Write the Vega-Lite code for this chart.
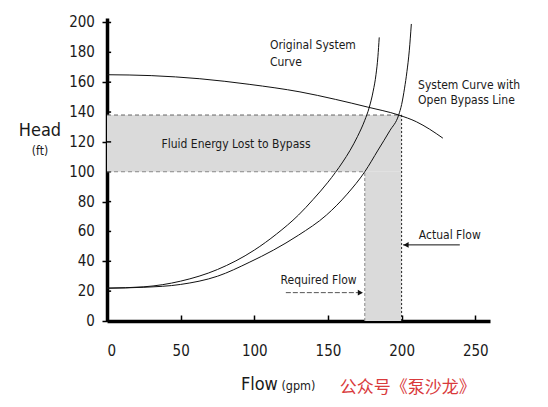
{
  "$schema": "https://vega.github.io/schema/vega-lite/v6.json",
  "width": 383,
  "height": 303,
  "autosize": {"type": "none"},
  "padding": {"left": 107, "top": 18, "right": 58, "bottom": 86},
  "background": "white",
  "config": {
    "view": {"stroke": null},
    "font": "DejaVu Sans Condensed, Roboto, sans-serif",
    "axis": {"labelOverlap": false, "grid": false},
    "text": {"font": "DejaVu Sans Condensed, Roboto, sans-serif", "color": "#1a1a1a"}
  },
  "datasets": {
    "curves": [
      {"series": "Original System Curve", "q": 0, "h": 22},
      {"series": "Original System Curve", "q": 25, "h": 22.9},
      {"series": "Original System Curve", "q": 50, "h": 26.7},
      {"series": "Original System Curve", "q": 75, "h": 34.5},
      {"series": "Original System Curve", "q": 100, "h": 47.5},
      {"series": "Original System Curve", "q": 115, "h": 58.2},
      {"series": "Original System Curve", "q": 130, "h": 71},
      {"series": "Original System Curve", "q": 140, "h": 81.5},
      {"series": "Original System Curve", "q": 150, "h": 93},
      {"series": "Original System Curve", "q": 160, "h": 106.5},
      {"series": "Original System Curve", "q": 165, "h": 114.3},
      {"series": "Original System Curve", "q": 170, "h": 123.5},
      {"series": "Original System Curve", "q": 175, "h": 134.5},
      {"series": "Original System Curve", "q": 178, "h": 143},
      {"series": "Original System Curve", "q": 180.7, "h": 154},
      {"series": "Original System Curve", "q": 182.6, "h": 165},
      {"series": "Original System Curve", "q": 183.9, "h": 177},
      {"series": "Original System Curve", "q": 184.8, "h": 190},
      {"series": "System Curve with Open Bypass Line", "q": 0, "h": 22},
      {"series": "System Curve with Open Bypass Line", "q": 25, "h": 22.6},
      {"series": "System Curve with Open Bypass Line", "q": 50, "h": 24.5},
      {"series": "System Curve with Open Bypass Line", "q": 75, "h": 30},
      {"series": "System Curve with Open Bypass Line", "q": 97, "h": 39.5},
      {"series": "System Curve with Open Bypass Line", "q": 113, "h": 47.5},
      {"series": "System Curve with Open Bypass Line", "q": 130, "h": 57.5},
      {"series": "System Curve with Open Bypass Line", "q": 149, "h": 71},
      {"series": "System Curve with Open Bypass Line", "q": 163, "h": 85},
      {"series": "System Curve with Open Bypass Line", "q": 175, "h": 100},
      {"series": "System Curve with Open Bypass Line", "q": 184, "h": 114.5},
      {"series": "System Curve with Open Bypass Line", "q": 192, "h": 127.5},
      {"series": "System Curve with Open Bypass Line", "q": 198, "h": 138},
      {"series": "System Curve with Open Bypass Line", "q": 200, "h": 145},
      {"series": "System Curve with Open Bypass Line", "q": 202, "h": 156},
      {"series": "System Curve with Open Bypass Line", "q": 203.6, "h": 167},
      {"series": "System Curve with Open Bypass Line", "q": 205.2, "h": 181},
      {"series": "System Curve with Open Bypass Line", "q": 206.6, "h": 199},
      {"series": "Pump Curve", "q": 0, "h": 165},
      {"series": "Pump Curve", "q": 30, "h": 164.4},
      {"series": "Pump Curve", "q": 63, "h": 162.3},
      {"series": "Pump Curve", "q": 97, "h": 158.5},
      {"series": "Pump Curve", "q": 131, "h": 153.5},
      {"series": "Pump Curve", "q": 155, "h": 148.5},
      {"series": "Pump Curve", "q": 176.6, "h": 143.4},
      {"series": "Pump Curve", "q": 198, "h": 138},
      {"series": "Pump Curve", "q": 210, "h": 133.5},
      {"series": "Pump Curve", "q": 219, "h": 128.5},
      {"series": "Pump Curve", "q": 228, "h": 122.5}
    ],
    "yticks": [
      {"v": 0}, {"v": 20}, {"v": 40}, {"v": 60}, {"v": 80}, {"v": 100},
      {"v": 120}, {"v": 140}, {"v": 160}, {"v": 180}, {"v": 200}
    ]
  },
  "layer": [
    {
      "data": {"values": [
        {"q1": 0, "q2": 200, "h1": 100, "h2": 138},
        {"q1": 175, "q2": 200, "h1": 0, "h2": 100}
      ]},
      "mark": {"type": "rect", "color": "#dadada"},
      "encoding": {
        "x": {"field": "q1", "type": "quantitative",
          "scale": {"domain": [0, 260], "nice": false, "zero": false},
          "axis": {"values": [0, 50, 100, 150, 200, 250], "title": null,
            "domainColor": "#000", "domainWidth": 3.5, "tickColor": "#000", "tickWidth": 1.5,
            "tickSize": -6, "labelPadding": 28, "labelFontSize": 15, "labelColor": "#1a1a1a",
            "labelOverlap": false, "labelFont": "DejaVu Sans Condensed, Roboto, sans-serif"}},
        "x2": {"field": "q2"},
        "y": {"field": "h1", "type": "quantitative",
          "scale": {"domain": [0, 203], "nice": false, "zero": false},
          "axis": {"values": [0, 20, 40, 60, 80, 100, 120, 140, 160, 180, 200], "title": null,
            "domainColor": "#000", "domainWidth": 3.5, "tickColor": "#000", "tickWidth": 1.5,
            "tickSize": 5, "labels": false}},
        "y2": {"field": "h2"}
      }
    },
    {
      "data": {"name": "yticks"},
      "mark": {"type": "rule", "color": "#000", "strokeWidth": 1.5},
      "encoding": {"y": {"field": "v", "type": "quantitative"}, "x": {"datum": 0}, "x2": {"datum": 2.8}}
    },
    {
      "data": {"name": "yticks"},
      "mark": {"type": "text", "align": "right", "baseline": "middle", "fontSize": 15, "color": "#1a1a1a"},
      "encoding": {"y": {"field": "v", "type": "quantitative"}, "x": {"datum": -8.2}, "text": {"field": "v", "type": "quantitative"}}
    },
    {
      "data": {"values": [{"q1": 0, "q2": 200, "h": 138}]},
      "mark": {"type": "rule", "color": "#666", "strokeWidth": 1, "strokeDash": [4, 3]},
      "encoding": {"x": {"field": "q1", "type": "quantitative"}, "x2": {"field": "q2"}, "y": {"field": "h", "type": "quantitative"}}
    },
    {
      "data": {"values": [{"q1": 0, "q2": 175, "h": 100}]},
      "mark": {"type": "rule", "color": "#888", "strokeWidth": 1, "strokeDash": [4, 3]},
      "encoding": {"x": {"field": "q1", "type": "quantitative"}, "x2": {"field": "q2"}, "y": {"field": "h", "type": "quantitative"}}
    },
    {
      "data": {"values": [{"q": 175, "h1": 0, "h2": 100}]},
      "mark": {"type": "rule", "color": "#888", "strokeWidth": 1, "strokeDash": [3, 2]},
      "encoding": {"x": {"field": "q", "type": "quantitative"}, "y": {"field": "h1", "type": "quantitative"}, "y2": {"field": "h2"}}
    },
    {
      "data": {"values": [{"q": 200, "h1": 0, "h2": 138}]},
      "mark": {"type": "rule", "color": "#222", "strokeWidth": 1, "strokeDash": [2, 2]},
      "encoding": {"x": {"field": "q", "type": "quantitative"}, "y": {"field": "h1", "type": "quantitative"}, "y2": {"field": "h2"}}
    },
    {
      "data": {"name": "curves"},
      "mark": {"type": "line", "color": "#111", "strokeWidth": 1, "interpolate": "monotone"},
      "encoding": {
        "x": {"field": "q", "type": "quantitative"},
        "y": {"field": "h", "type": "quantitative"},
        "detail": {"field": "series"}
      }
    },
    {
      "data": {"values": [{"q1": 201, "q2": 239.5, "h": 51}]},
      "mark": {"type": "rule", "color": "#111", "strokeWidth": 1},
      "encoding": {"x": {"field": "q1", "type": "quantitative"}, "x2": {"field": "q2"}, "y": {"field": "h", "type": "quantitative"}}
    },
    {
      "data": {"values": [{"q1": 121.4, "q2": 173, "h": 19}]},
      "mark": {"type": "rule", "color": "#555", "strokeWidth": 1, "strokeDash": [5, 2]},
      "encoding": {"x": {"field": "q1", "type": "quantitative"}, "x2": {"field": "q2"}, "y": {"field": "h", "type": "quantitative"}}
    },
    {
      "data": {"values": [{"q": 203, "h": 51}]},
      "mark": {"type": "point", "shape": "triangle-left", "filled": true, "color": "#111", "size": 35, "opacity": 1},
      "encoding": {"x": {"field": "q", "type": "quantitative"}, "y": {"field": "h", "type": "quantitative"}}
    },
    {
      "data": {"values": [{"q": 172, "h": 19}]},
      "mark": {"type": "point", "shape": "triangle-right", "filled": true, "color": "#111", "size": 35, "opacity": 1},
      "encoding": {"x": {"field": "q", "type": "quantitative"}, "y": {"field": "h", "type": "quantitative"}}
    },
    {
      "data": {"values": [
        {"label": "Original System", "q": 110.6, "h": 185.2},
        {"label": "Curve", "q": 110.6, "h": 173.6},
        {"label": "System Curve with", "q": 211.2, "h": 158.4},
        {"label": "Open Bypass Line", "q": 211.2, "h": 148.3},
        {"label": "Fluid Energy Lost to Bypass", "q": 37.0, "h": 118.5},
        {"label": "Actual Flow", "q": 211.7, "h": 57.7},
        {"label": "Required Flow", "q": 117.8, "h": 27.5}
      ]},
      "mark": {"type": "text", "align": "left", "baseline": "middle", "fontSize": 12},
      "encoding": {"x": {"field": "q", "type": "quantitative"}, "y": {"field": "h", "type": "quantitative"}, "text": {"field": "label"}}
    },
    {
      "data": {"values": [{"label": "Head", "q": -45.5, "h": 127.2}]},
      "mark": {"type": "text", "align": "center", "baseline": "middle", "fontSize": 18},
      "encoding": {"x": {"field": "q", "type": "quantitative"}, "y": {"field": "h", "type": "quantitative"}, "text": {"field": "label"}}
    },
    {
      "data": {"values": [{"label": "(ft)", "q": -45.5, "h": 113.6}]},
      "mark": {"type": "text", "align": "center", "baseline": "middle", "fontSize": 12},
      "encoding": {"x": {"field": "q", "type": "quantitative"}, "y": {"field": "h", "type": "quantitative"}, "text": {"field": "label"}}
    },
    {
      "data": {"values": [{"label": "Flow", "q": 90.9, "h": -46.5}]},
      "mark": {"type": "text", "align": "left", "baseline": "alphabetic", "fontSize": 18},
      "encoding": {"x": {"field": "q", "type": "quantitative"}, "y": {"field": "h", "type": "quantitative"}, "text": {"field": "label"}}
    },
    {
      "data": {"values": [{"label": "(gpm)", "q": 118.4, "h": -46.5}]},
      "mark": {"type": "text", "align": "left", "baseline": "alphabetic", "fontSize": 12.5},
      "encoding": {"x": {"field": "q", "type": "quantitative"}, "y": {"field": "h", "type": "quantitative"}, "text": {"field": "label"}}
    },
    {
      "data": {"values": [{"label": "公众号《泵沙龙》", "q": 158, "h": -45}]},
      "mark": {"type": "text", "align": "left", "baseline": "middle", "fontSize": 17, "font": "Noto Sans CJK SC", "color": "#d93a3c"},
      "encoding": {"x": {"field": "q", "type": "quantitative"}, "y": {"field": "h", "type": "quantitative"}, "text": {"field": "label"}}
    }
  ]
}
